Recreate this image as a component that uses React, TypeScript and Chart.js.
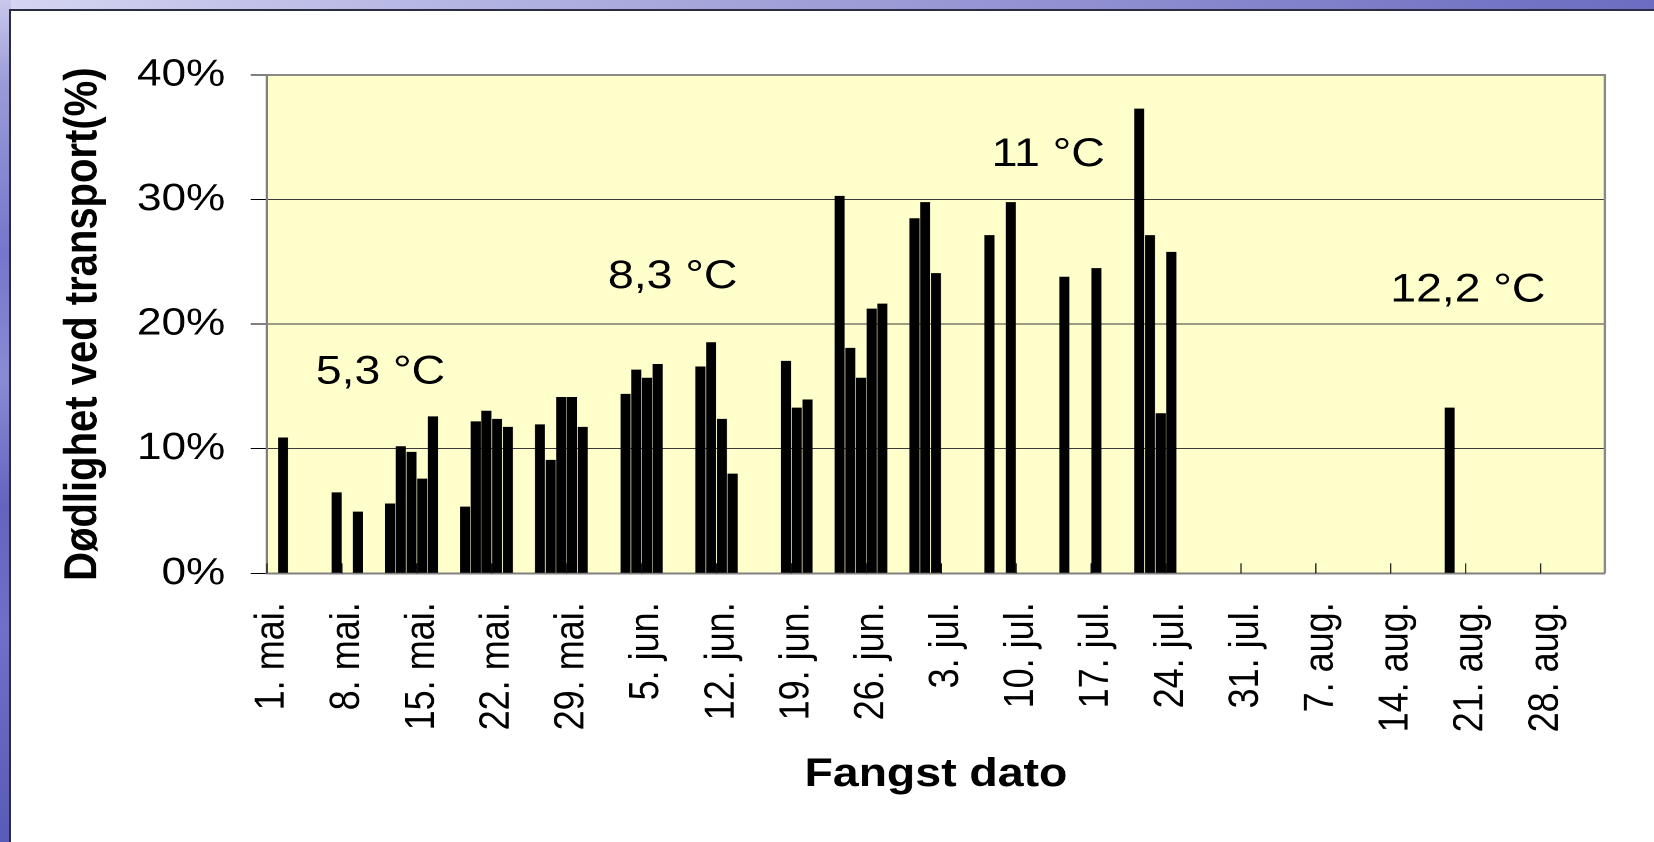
import React, { useEffect, useRef } from "react";
import { Chart, registerables } from "chart.js";

Chart.register(...registerables);

// ---- data ----
// Date axis: one category per day, 1. mai. – 2. sep.
const seasonMonths = ["mai.", "jun.", "jul.", "aug.", "sep."];
const seasonMonthDays = [31, 30, 31, 31, 2];

// Weekly tick labels shown on the date axis
const tickLabels = [
  "1. mai.", "8. mai.", "15. mai.", "22. mai.", "29. mai.",
  "5. jun.", "12. jun.", "19. jun.", "26. jun.",
  "3. jul.", "10. jul.", "17. jul.", "24. jul.", "31. jul.",
  "7. aug.", "14. aug.", "21. aug.", "28. aug.",
];

// Catch dates and mortality during transport (%)
const catchDates = [
  "2. mai.", "7. mai.", "9. mai.", "12. mai.", "13. mai.", "14. mai.", "15. mai.", "16. mai.",
  "19. mai.", "20. mai.", "21. mai.", "22. mai.", "23. mai.",
  "26. mai.", "27. mai.", "28. mai.", "29. mai.", "30. mai.",
  "3. jun.", "4. jun.", "5. jun.", "6. jun.",
  "10. jun.", "11. jun.", "12. jun.", "13. jun.",
  "18. jun.", "19. jun.", "20. jun.",
  "23. jun.", "24. jun.", "25. jun.", "26. jun.", "27. jun.",
  "30. jun.", "1. jul.", "2. jul.",
  "7. jul.", "9. jul.",
  "14. jul.", "17. jul.",
  "21. jul.", "22. jul.", "23. jul.", "24. jul.",
  "19. aug.",
];
const mortality = [
  10.9, 6.5, 4.95, 5.6, 10.2, 9.75, 7.6, 12.6,
  5.35, 12.2, 13.05, 12.4, 11.75,
  11.95, 9.1, 14.15, 14.15, 11.75,
  14.4, 16.35, 15.7, 16.8,
  16.6, 18.55, 12.4, 8.0,
  17.05, 13.3, 13.95,
  30.3, 18.1, 15.7, 21.25, 21.65,
  28.5, 29.8, 24.1,
  27.15, 29.8,
  23.8, 24.5,
  37.3, 27.15, 12.85, 25.8,
  13.3,
];

// Y axis ticks (%)
const yTicks = [0, 10, 20, 30, 40];

// Temperature annotations (day position on the date axis, level in %)
const annotationTexts = ["5,3 °C", "8,3 °C", "11 °C", "12,2 °C"];
const annotationDay = [10.1, 37.4, 72.5, 111.7];
const annotationLevel = [15.25, 22.9, 32.7, 21.8];

const xTitle = "Fangst dato";
const yTitle = "Dødlighet ved transport(%)";

// ---- layout ----
const W = 1426;
const H = 842;
const SX = 1654 / W;
const PLOT_LEFT = 230.2;
const PLOT_RIGHT = 1383.6;
const PLOT_TOP = 75;
const PLOT_BOTTOM = 573.3;
const FONT = "'Liberation Sans', Arial, Helvetica, sans-serif";

const dayLabels: string[] = [];
seasonMonths.forEach((m, k) => {
  for (let d = 1; d <= seasonMonthDays[k]; d++) dayLabels.push(`${d}. ${m}`);
});
const values = dayLabels.map((l) => {
  const i = catchDates.indexOf(l);
  return i >= 0 ? mortality[i] : null;
});

const framePlugin = {
  id: "frame",
  beforeDraw(chart: any) {
    const { ctx, chartArea: a } = chart;
    ctx.save();
    ctx.fillStyle = "#FFFFCC";
    ctx.fillRect(a.left, a.top, a.right - a.left, a.bottom - a.top);
    ctx.restore();
  },
  afterDatasetsDraw(chart: any) {
    const { ctx, chartArea: a, scales } = chart;
    const x = scales.x;
    const y = scales.y;
    ctx.save();
    // inside tick marks at week boundaries
    const slot = (x.right - x.left) / dayLabels.length;
    ctx.strokeStyle = "#111";
    ctx.lineWidth = 1;
    tickLabels.forEach((t) => {
      const i = dayLabels.indexOf(t);
      const px = x.getPixelForValue(i) - slot / 2;
      ctx.beginPath();
      ctx.moveTo(px, a.bottom);
      ctx.lineTo(px, a.bottom - 10);
      ctx.stroke();
    });
    // top and right plot border
    ctx.strokeStyle = "#8a8a8a";
    ctx.lineWidth = 2;
    ctx.beginPath();
    ctx.moveTo(a.left, a.top);
    ctx.lineTo(a.right, a.top);
    ctx.lineTo(a.right, a.bottom);
    ctx.stroke();
    // temperature annotations
    ctx.fillStyle = "#000";
    ctx.font = `40px ${FONT}`;
    ctx.textAlign = "center";
    ctx.textBaseline = "alphabetic";
    annotationTexts.forEach((t, k) => {
      ctx.fillText(t, x.getPixelForValue(annotationDay[k]), y.getPixelForValue(annotationLevel[k]));
    });
    ctx.restore();
  },
};

export default function App() {
  const ref = useRef<HTMLCanvasElement>(null);

  useEffect(() => {
    if (!ref.current) return;
    Chart.defaults.font.family = FONT;
    Chart.defaults.color = "#000";
    const chart = new Chart(ref.current, {
      type: "bar",
      data: {
        labels: dayLabels,
        datasets: [
          {
            data: values,
            backgroundColor: "#000",
            borderWidth: 0,
            barPercentage: 0.94,
            categoryPercentage: 1,
          },
        ],
      },
      options: {
        animation: false,
        responsive: false,
        maintainAspectRatio: false,
        devicePixelRatio: 2,
        layout: { padding: { left: 0, top: PLOT_TOP, right: W - PLOT_RIGHT, bottom: 0 } },
        plugins: { legend: { display: false }, tooltip: { enabled: false } },
        scales: {
          x: {
            type: "category",
            offset: true,
            grid: { display: false, drawTicks: false },
            border: { display: true, color: "#808080", width: 2 },
            ticks: {
              autoSkip: false,
              maxRotation: 90,
              minRotation: 90,
              padding: 29,
              color: "#000",
              font: { size: 36, family: FONT },
              callback: (_v: any, i: number) => (tickLabels.includes(dayLabels[i]) ? dayLabels[i] : ""),
            },
            title: {
              display: true,
              text: xTitle,
              color: "#000",
              font: { size: 40, weight: "bold", family: FONT },
              padding: { top: 0, bottom: 43 },
            },
            afterFit: (s: any) => {
              s.height = H - PLOT_BOTTOM;
              s.paddingLeft = 0;
              s.paddingRight = 0;
            },
          },
          y: {
            min: yTicks[0],
            max: yTicks[yTicks.length - 1],
            grid: { color: "#3a3a3a", lineWidth: 1, tickLength: 14, tickColor: "#000" },
            border: { display: true, color: "#808080", width: 2 },
            afterBuildTicks: (s: any) => {
              s.ticks = yTicks.map((v) => ({ value: v }));
            },
            ticks: {
              padding: 22,
              color: "#000",
              font: { size: 38, family: FONT },
              callback: (v: any) => `${v}%`,
            },
            title: {
              display: true,
              text: yTitle,
              color: "#000",
              font: { size: 40, weight: "bold", family: FONT },
              padding: { top: 48, bottom: 0 },
            },
            afterFit: (s: any) => {
              s.width = PLOT_LEFT;
              s.paddingTop = 0;
              s.paddingBottom = 0;
            },
          },
        },
      },
      plugins: [framePlugin],
    } as any);
    return () => chart.destroy();
  }, []);

  return (
    <div
      style={{
        position: "fixed",
        left: 0,
        top: 0,
        width: 1654,
        height: 842,
        overflow: "hidden",
        background: "#fff",
      }}
    >
      <div
        style={{
          position: "absolute",
          left: 0,
          top: 0,
          width: 1654,
          height: 11,
          background:
            "linear-gradient(to right, #d6d6f2 0%, #c2c2ea 15%, #a8a8dc 40%, #9090d2 65%, #7a7ac8 85%, #6c6cc2 100%)",
        }}
      />
      <div
        style={{
          position: "absolute",
          left: 0,
          top: 0,
          width: 11,
          height: 842,
          background:
            "linear-gradient(to bottom, #c8c8ec 0%, #9a9ad8 10%, #7676cc 30%, #8a8ad4 45%, #6464c0 60%, #7070c8 75%, #5a5ab8 100%)",
        }}
      />
      <div
        style={{
          position: "absolute",
          left: 9,
          top: 9,
          width: 1645,
          height: 833,
          borderLeft: "2px solid #2c2c40",
          borderTop: "2px solid #2c2c40",
          background: "#fff",
        }}
      />
      <div
        style={{
          position: "absolute",
          left: 0,
          top: 0,
          width: W,
          height: H,
          transform: `scaleX(${SX})`,
          transformOrigin: "0 0",
        }}
      >
        <canvas ref={ref} width={W} height={H} style={{ display: "block" }} />
      </div>
    </div>
  );
}
